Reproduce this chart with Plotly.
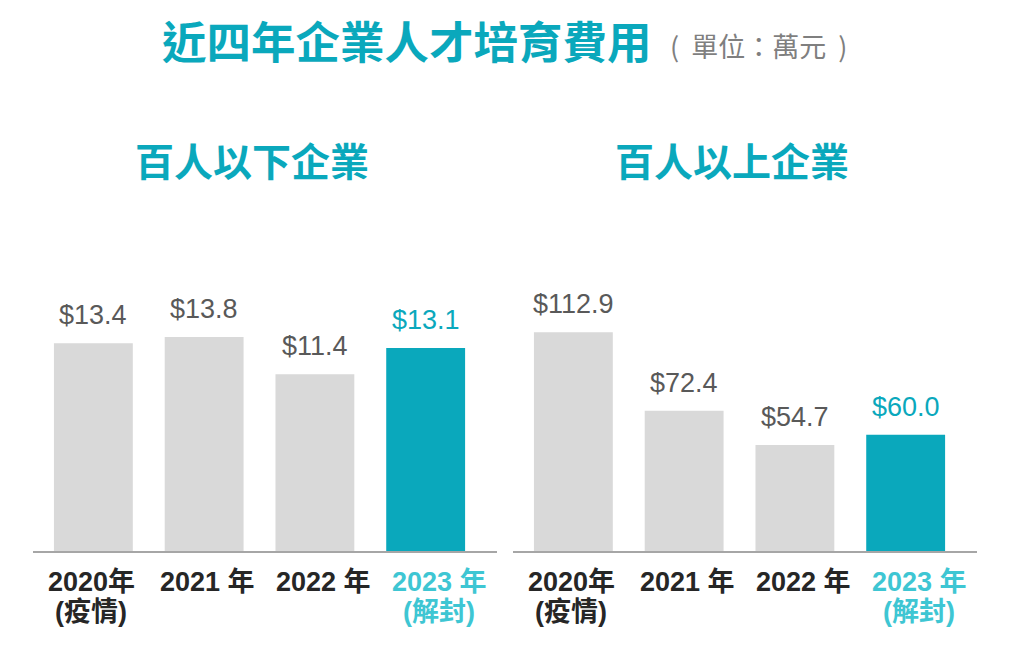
import plotly.graph_objects as go

categories = ["2020", "2021", "2022", "2023"]
tick_line1 = ["2020年", "2021 年", "2022 年", "2023 年"]
tick_line2 = ["(疫情)", "", "", "(解封)"]
small_values = [13.4, 13.8, 11.4, 13.1]
large_values = [112.9, 72.4, 54.7, 60.0]
panel_titles = ["百人以下企業", "百人以上企業"]
main_title = "近四年企業人才培育費用"
unit_text = "(&nbsp;&nbsp;單位：萬元&nbsp;&nbsp;)"

GRAY = "#D9D9D9"
TEAL = "#0AA8BC"
TEAL_LIGHT = "#3EC6D3"
DARK = "#262626"
LABEL = "#595959"
FONT = "Liberation Sans, Arial, Noto Sans CJK TC, sans-serif"
CJK = "Noto Sans CJK TC, sans-serif"

# page body has an 8px margin; work in reference pixels and shift
OFF = 8
W, H = 1024 - 2 * OFF, 647 - 2 * OFF


def fx(x):
    return (x - OFF) / W


def fy(y):
    return (H - (y - OFF)) / H


fig = go.Figure()

bar_colors = [GRAY, GRAY, GRAY, TEAL]
label_colors = [LABEL, LABEL, LABEL, TEAL]
tick_colors = [DARK, DARK, DARK, TEAL_LIGHT]

panels = [(small_values, "x", "y"), (large_values, "x2", "y2")]
n = len(categories)
for vals, xa, ya in panels:
    fig.add_trace(go.Bar(x=categories, y=vals, marker=dict(color=bar_colors, line=dict(width=0)),
                         xaxis=xa, yaxis=ya, showlegend=False, hoverinfo="skip"))
    for i, (v, col) in enumerate(zip(vals, label_colors)):
        fig.add_annotation(x=i, y=v, xref=xa, yref=ya, text=f"${v:.1f}", showarrow=False,
                           yanchor="bottom", yshift=11, font=dict(size=27, color=col, family=FONT))
    # category labels, centred on equal slots of the panel width
    for i, (t1, t2, col) in enumerate(zip(tick_line1, tick_line2, tick_colors)):
        fig.add_annotation(x=(i + 0.5) / n, y=fy(582), xref=f"{xa} domain", yref="paper",
                           text=f"<b>{t1}</b>", showarrow=False, xanchor="center", yanchor="middle",
                           font=dict(size=27, color=col, family=FONT))
        if t2:
            fig.add_annotation(x=(i + 0.5) / n, y=fy(612), xref=f"{xa} domain", yref="paper",
                               text=f"<b>{t2}</b>", showarrow=False, xanchor="center", yanchor="middle",
                               font=dict(size=27, color=col, family=FONT))

ydom = [fy(551), fy(100)]
xcommon = dict(type="category", showline=True, linecolor="#A6A6A6", linewidth=1.5,
               ticks="", showticklabels=False, range=[-0.545, 3.644],
               showgrid=False, zeroline=False, fixedrange=True)
ycommon = dict(visible=False, showgrid=False, zeroline=False, fixedrange=True, domain=ydom)

fig.update_layout(
    width=W, height=H,
    margin=dict(l=0, r=0, t=0, b=0),
    paper_bgcolor="white", plot_bgcolor="white",
    bargap=0.288,
    xaxis=dict(domain=[fx(33), fx(497)], anchor="y", **xcommon),
    xaxis2=dict(domain=[fx(513), fx(977)], anchor="y2", **xcommon),
    yaxis=dict(range=[0, 451 / 15.5], anchor="x", **ycommon),
    yaxis2=dict(range=[0, 451 / 1.937], anchor="x2", **ycommon),
)

for title, cx in zip(panel_titles, [252, 732]):
    fig.add_annotation(x=fx(cx), y=fy(159), xref="paper", yref="paper", text=f"<b>{title}</b>",
                       showarrow=False, xanchor="center", yanchor="middle",
                       font=dict(size=39, color=TEAL, family=CJK))

fig.add_annotation(x=fx(160), y=fy(39), xref="paper", yref="paper", text=f"<b>{main_title}</b>",
                   showarrow=False, xanchor="left", yanchor="middle",
                   font=dict(size=44.5, color=TEAL, family=CJK))
fig.add_annotation(x=fx(668), y=fy(45), xref="paper", yref="paper", text=unit_text,
                   showarrow=False, xanchor="left", yanchor="middle",
                   font=dict(size=27, color="#7F7F7F", family=CJK))

fig.write_html("out.html")
